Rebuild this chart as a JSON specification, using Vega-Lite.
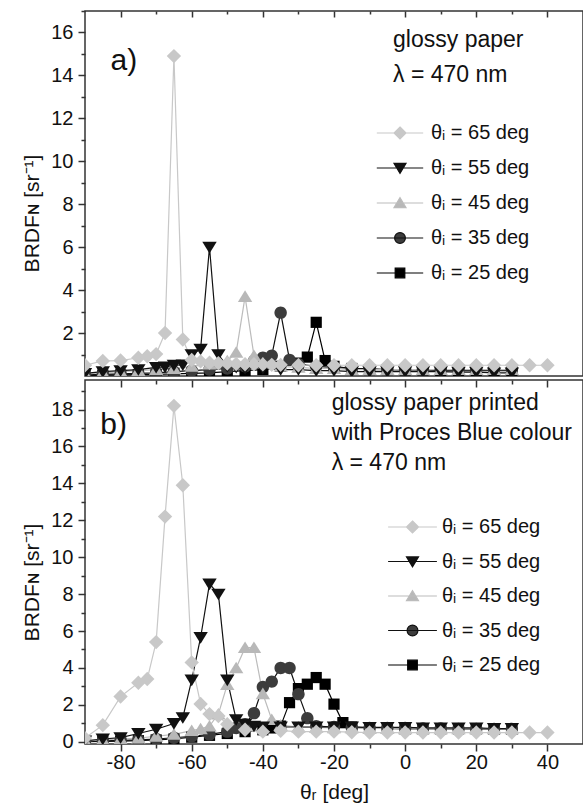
{
"$schema": "https://vega.github.io/schema/vega-lite/v6.json",
"padding": {"left": 21, "top": 9, "right": 0, "bottom": 4},
"config": {
  "font": "Liberation Sans",
  "view": {"stroke": "#333333", "strokeWidth": 1.5},
  "axis": {"domain": false, "grid": false, "tickColor": "#333333", "tickWidth": 1.5, "labelFont": "Liberation Sans", "labelFontSize": 20, "labelColor": "#111111", "titleFont": "Liberation Sans", "titleFontSize": 21, "titleFontWeight": "normal", "titleColor": "#111111"}
},
"datasets": {"d": [
{"p":"a","s":"25","x":-90,"y":0.03},{"p":"a","s":"25","x":-85,"y":0.04},{"p":"a","s":"25","x":-80,"y":0.05},{"p":"a","s":"25","x":-75,"y":0.06},{"p":"a","s":"25","x":-70,"y":0.08},{"p":"a","s":"25","x":-65,"y":0.1},{"p":"a","s":"25","x":-60,"y":0.12},{"p":"a","s":"25","x":-55,"y":0.15},{"p":"a","s":"25","x":-50,"y":0.2},{"p":"a","s":"25","x":-45,"y":0.25},{"p":"a","s":"25","x":-40,"y":0.3},{"p":"a","s":"25","x":-35,"y":0.45},{"p":"a","s":"25","x":-30,"y":0.6},{"p":"a","s":"25","x":-27.5,"y":0.88},{"p":"a","s":"25","x":-25,"y":2.5},{"p":"a","s":"25","x":-22.5,"y":0.72},{"p":"a","s":"25","x":-20,"y":0.45},{"p":"a","s":"25","x":-15,"y":0.35},{"p":"a","s":"25","x":-10,"y":0.3},{"p":"a","s":"25","x":-5,"y":0.3},{"p":"a","s":"25","x":0,"y":0.28},{"p":"a","s":"25","x":5,"y":0.28},{"p":"a","s":"25","x":10,"y":0.25},{"p":"a","s":"25","x":15,"y":0.25},{"p":"a","s":"25","x":20,"y":0.25},{"p":"a","s":"25","x":25,"y":0.25},{"p":"a","s":"25","x":30,"y":0.25},
{"p":"a","s":"35","x":-90,"y":0.05},{"p":"a","s":"35","x":-85,"y":0.08},{"p":"a","s":"35","x":-80,"y":0.1},{"p":"a","s":"35","x":-75,"y":0.12},{"p":"a","s":"35","x":-70,"y":0.15},{"p":"a","s":"35","x":-65,"y":0.2},{"p":"a","s":"35","x":-60,"y":0.25},{"p":"a","s":"35","x":-55,"y":0.3},{"p":"a","s":"35","x":-50,"y":0.35},{"p":"a","s":"35","x":-45,"y":0.45},{"p":"a","s":"35","x":-42.5,"y":0.7},{"p":"a","s":"35","x":-40,"y":0.85},{"p":"a","s":"35","x":-37.5,"y":0.95},{"p":"a","s":"35","x":-35,"y":2.95},{"p":"a","s":"35","x":-32.5,"y":0.75},{"p":"a","s":"35","x":-30,"y":0.55},{"p":"a","s":"35","x":-25,"y":0.45},{"p":"a","s":"35","x":-20,"y":0.4},{"p":"a","s":"35","x":-15,"y":0.35},{"p":"a","s":"35","x":-10,"y":0.35},{"p":"a","s":"35","x":-5,"y":0.3},{"p":"a","s":"35","x":0,"y":0.3},{"p":"a","s":"35","x":5,"y":0.3},{"p":"a","s":"35","x":10,"y":0.3},{"p":"a","s":"35","x":15,"y":0.3},{"p":"a","s":"35","x":20,"y":0.3},{"p":"a","s":"35","x":25,"y":0.3},{"p":"a","s":"35","x":30,"y":0.3},
{"p":"a","s":"45","x":-90,"y":0.1},{"p":"a","s":"45","x":-85,"y":0.15},{"p":"a","s":"45","x":-80,"y":0.2},{"p":"a","s":"45","x":-75,"y":0.25},{"p":"a","s":"45","x":-70,"y":0.3},{"p":"a","s":"45","x":-65,"y":0.35},{"p":"a","s":"45","x":-60,"y":0.45},{"p":"a","s":"45","x":-55,"y":0.55},{"p":"a","s":"45","x":-50,"y":0.7},{"p":"a","s":"45","x":-47.5,"y":1.1},{"p":"a","s":"45","x":-45,"y":3.7},{"p":"a","s":"45","x":-42.5,"y":0.95},{"p":"a","s":"45","x":-40,"y":0.6},{"p":"a","s":"45","x":-35,"y":0.45},{"p":"a","s":"45","x":-30,"y":0.4},{"p":"a","s":"45","x":-25,"y":0.35},{"p":"a","s":"45","x":-20,"y":0.35},{"p":"a","s":"45","x":-15,"y":0.3},{"p":"a","s":"45","x":-10,"y":0.3},{"p":"a","s":"45","x":-5,"y":0.3},{"p":"a","s":"45","x":0,"y":0.3},{"p":"a","s":"45","x":5,"y":0.3},{"p":"a","s":"45","x":10,"y":0.3},{"p":"a","s":"45","x":15,"y":0.3},{"p":"a","s":"45","x":20,"y":0.3},{"p":"a","s":"45","x":25,"y":0.3},{"p":"a","s":"45","x":30,"y":0.3},
{"p":"a","s":"55","x":-90,"y":0.12},{"p":"a","s":"55","x":-85,"y":0.2},{"p":"a","s":"55","x":-80,"y":0.25},{"p":"a","s":"55","x":-75,"y":0.3},{"p":"a","s":"55","x":-70,"y":0.4},{"p":"a","s":"55","x":-67.5,"y":0.42},{"p":"a","s":"55","x":-65,"y":0.5},{"p":"a","s":"55","x":-62.5,"y":0.52},{"p":"a","s":"55","x":-60,"y":1.0},{"p":"a","s":"55","x":-57.5,"y":1.25},{"p":"a","s":"55","x":-55,"y":6.0},{"p":"a","s":"55","x":-52.5,"y":1.0},{"p":"a","s":"55","x":-50,"y":0.45},{"p":"a","s":"55","x":-47.5,"y":0.4},{"p":"a","s":"55","x":-45,"y":0.35},{"p":"a","s":"55","x":-40,"y":0.35},{"p":"a","s":"55","x":-35,"y":0.3},{"p":"a","s":"55","x":-30,"y":0.3},{"p":"a","s":"55","x":-25,"y":0.25},{"p":"a","s":"55","x":-20,"y":0.25},{"p":"a","s":"55","x":-15,"y":0.2},{"p":"a","s":"55","x":-10,"y":0.2},{"p":"a","s":"55","x":-5,"y":0.2},{"p":"a","s":"55","x":0,"y":0.2},{"p":"a","s":"55","x":5,"y":0.2},{"p":"a","s":"55","x":10,"y":0.2},{"p":"a","s":"55","x":15,"y":0.18},{"p":"a","s":"55","x":20,"y":0.18},{"p":"a","s":"55","x":25,"y":0.15},{"p":"a","s":"55","x":30,"y":0.15},
{"p":"a","s":"65","x":-90,"y":0.5},{"p":"a","s":"65","x":-85,"y":0.7},{"p":"a","s":"65","x":-80,"y":0.72},{"p":"a","s":"65","x":-75,"y":0.85},{"p":"a","s":"65","x":-72.5,"y":0.92},{"p":"a","s":"65","x":-70,"y":1.02},{"p":"a","s":"65","x":-67.5,"y":2.0},{"p":"a","s":"65","x":-65,"y":14.9},{"p":"a","s":"65","x":-62.5,"y":1.7},{"p":"a","s":"65","x":-60,"y":0.75},{"p":"a","s":"65","x":-57.5,"y":0.68},{"p":"a","s":"65","x":-55,"y":0.62},{"p":"a","s":"65","x":-52.5,"y":0.6},{"p":"a","s":"65","x":-50,"y":0.58},{"p":"a","s":"65","x":-47.5,"y":0.56},{"p":"a","s":"65","x":-45,"y":0.55},{"p":"a","s":"65","x":-42.5,"y":0.55},{"p":"a","s":"65","x":-40,"y":0.54},{"p":"a","s":"65","x":-37.5,"y":0.52},{"p":"a","s":"65","x":-35,"y":0.52},{"p":"a","s":"65","x":-30,"y":0.5},{"p":"a","s":"65","x":-25,"y":0.5},{"p":"a","s":"65","x":-20,"y":0.5},{"p":"a","s":"65","x":-15,"y":0.5},{"p":"a","s":"65","x":-10,"y":0.5},{"p":"a","s":"65","x":-5,"y":0.5},{"p":"a","s":"65","x":0,"y":0.5},{"p":"a","s":"65","x":5,"y":0.5},{"p":"a","s":"65","x":10,"y":0.5},{"p":"a","s":"65","x":15,"y":0.5},{"p":"a","s":"65","x":20,"y":0.5},{"p":"a","s":"65","x":25,"y":0.5},{"p":"a","s":"65","x":30,"y":0.5},{"p":"a","s":"65","x":35,"y":0.5},{"p":"a","s":"65","x":40,"y":0.5},
{"p":"b","s":"25","x":-90,"y":0.01},{"p":"b","s":"25","x":-85,"y":0.02},{"p":"b","s":"25","x":-80,"y":0.04},{"p":"b","s":"25","x":-75,"y":0.06},{"p":"b","s":"25","x":-70,"y":0.1},{"p":"b","s":"25","x":-65,"y":0.15},{"p":"b","s":"25","x":-60,"y":0.25},{"p":"b","s":"25","x":-55,"y":0.35},{"p":"b","s":"25","x":-50,"y":0.45},{"p":"b","s":"25","x":-45,"y":0.55},{"p":"b","s":"25","x":-40,"y":0.65},{"p":"b","s":"25","x":-37.5,"y":0.75},{"p":"b","s":"25","x":-35,"y":0.85},{"p":"b","s":"25","x":-32.5,"y":2.12},{"p":"b","s":"25","x":-30,"y":2.88},{"p":"b","s":"25","x":-27.5,"y":3.12},{"p":"b","s":"25","x":-25,"y":3.48},{"p":"b","s":"25","x":-22.5,"y":3.12},{"p":"b","s":"25","x":-20,"y":2.04},{"p":"b","s":"25","x":-17.5,"y":1.04},{"p":"b","s":"25","x":-15,"y":0.8},{"p":"b","s":"25","x":-10,"y":0.75},{"p":"b","s":"25","x":-5,"y":0.72},{"p":"b","s":"25","x":0,"y":0.7},{"p":"b","s":"25","x":5,"y":0.7},{"p":"b","s":"25","x":10,"y":0.7},{"p":"b","s":"25","x":15,"y":0.7},{"p":"b","s":"25","x":20,"y":0.7},{"p":"b","s":"25","x":25,"y":0.68},{"p":"b","s":"25","x":30,"y":0.68},
{"p":"b","s":"35","x":-90,"y":0.02},{"p":"b","s":"35","x":-85,"y":0.05},{"p":"b","s":"35","x":-80,"y":0.08},{"p":"b","s":"35","x":-75,"y":0.1},{"p":"b","s":"35","x":-70,"y":0.15},{"p":"b","s":"35","x":-65,"y":0.22},{"p":"b","s":"35","x":-60,"y":0.3},{"p":"b","s":"35","x":-55,"y":0.4},{"p":"b","s":"35","x":-50,"y":0.55},{"p":"b","s":"35","x":-47.5,"y":0.75},{"p":"b","s":"35","x":-45,"y":0.95},{"p":"b","s":"35","x":-42.5,"y":1.55},{"p":"b","s":"35","x":-40,"y":2.97},{"p":"b","s":"35","x":-37.5,"y":3.26},{"p":"b","s":"35","x":-35,"y":4.0},{"p":"b","s":"35","x":-32.5,"y":4.0},{"p":"b","s":"35","x":-30,"y":2.58},{"p":"b","s":"35","x":-27.5,"y":1.28},{"p":"b","s":"35","x":-25,"y":0.85},{"p":"b","s":"35","x":-20,"y":0.8},{"p":"b","s":"35","x":-15,"y":0.78},{"p":"b","s":"35","x":-10,"y":0.75},{"p":"b","s":"35","x":-5,"y":0.75},{"p":"b","s":"35","x":0,"y":0.75},{"p":"b","s":"35","x":5,"y":0.72},{"p":"b","s":"35","x":10,"y":0.72},{"p":"b","s":"35","x":15,"y":0.7},{"p":"b","s":"35","x":20,"y":0.7},{"p":"b","s":"35","x":25,"y":0.7},{"p":"b","s":"35","x":30,"y":0.7},
{"p":"b","s":"45","x":-90,"y":0.05},{"p":"b","s":"45","x":-85,"y":0.1},{"p":"b","s":"45","x":-80,"y":0.15},{"p":"b","s":"45","x":-75,"y":0.2},{"p":"b","s":"45","x":-70,"y":0.3},{"p":"b","s":"45","x":-65,"y":0.4},{"p":"b","s":"45","x":-60,"y":0.6},{"p":"b","s":"45","x":-57.5,"y":0.7},{"p":"b","s":"45","x":-55,"y":0.85},{"p":"b","s":"45","x":-52.5,"y":1.5},{"p":"b","s":"45","x":-50,"y":3.1},{"p":"b","s":"45","x":-47.5,"y":4.0},{"p":"b","s":"45","x":-45,"y":5.1},{"p":"b","s":"45","x":-42.5,"y":5.1},{"p":"b","s":"45","x":-40,"y":2.6},{"p":"b","s":"45","x":-37.5,"y":1.2},{"p":"b","s":"45","x":-35,"y":0.9},{"p":"b","s":"45","x":-30,"y":0.8},{"p":"b","s":"45","x":-25,"y":0.78},{"p":"b","s":"45","x":-20,"y":0.75},{"p":"b","s":"45","x":-15,"y":0.75},{"p":"b","s":"45","x":-10,"y":0.72},{"p":"b","s":"45","x":-5,"y":0.72},{"p":"b","s":"45","x":0,"y":0.7},{"p":"b","s":"45","x":5,"y":0.7},{"p":"b","s":"45","x":10,"y":0.7},{"p":"b","s":"45","x":15,"y":0.7},{"p":"b","s":"45","x":20,"y":0.7},{"p":"b","s":"45","x":25,"y":0.7},{"p":"b","s":"45","x":30,"y":0.7},
{"p":"b","s":"55","x":-90,"y":0.05},{"p":"b","s":"55","x":-85,"y":0.15},{"p":"b","s":"55","x":-80,"y":0.23},{"p":"b","s":"55","x":-75,"y":0.45},{"p":"b","s":"55","x":-70,"y":0.68},{"p":"b","s":"55","x":-65,"y":0.99},{"p":"b","s":"55","x":-62.5,"y":1.31},{"p":"b","s":"55","x":-60,"y":3.35},{"p":"b","s":"55","x":-57.5,"y":5.65},{"p":"b","s":"55","x":-55,"y":8.55},{"p":"b","s":"55","x":-52.5,"y":8.0},{"p":"b","s":"55","x":-50,"y":3.35},{"p":"b","s":"55","x":-47.5,"y":1.2},{"p":"b","s":"55","x":-45,"y":0.95},{"p":"b","s":"55","x":-42.5,"y":0.85},{"p":"b","s":"55","x":-40,"y":0.8},{"p":"b","s":"55","x":-35,"y":0.8},{"p":"b","s":"55","x":-30,"y":0.8},{"p":"b","s":"55","x":-25,"y":0.8},{"p":"b","s":"55","x":-20,"y":0.8},{"p":"b","s":"55","x":-15,"y":0.8},{"p":"b","s":"55","x":-10,"y":0.78},{"p":"b","s":"55","x":-5,"y":0.78},{"p":"b","s":"55","x":0,"y":0.78},{"p":"b","s":"55","x":5,"y":0.75},{"p":"b","s":"55","x":10,"y":0.75},{"p":"b","s":"55","x":15,"y":0.75},{"p":"b","s":"55","x":20,"y":0.75},{"p":"b","s":"55","x":25,"y":0.72},{"p":"b","s":"55","x":30,"y":0.72},
{"p":"b","s":"65","x":-90,"y":0.2},{"p":"b","s":"65","x":-85,"y":0.9},{"p":"b","s":"65","x":-80,"y":2.45},{"p":"b","s":"65","x":-75,"y":3.2},{"p":"b","s":"65","x":-72.5,"y":3.4},{"p":"b","s":"65","x":-70,"y":5.4},{"p":"b","s":"65","x":-67.5,"y":12.2},{"p":"b","s":"65","x":-65,"y":18.2},{"p":"b","s":"65","x":-62.5,"y":13.9},{"p":"b","s":"65","x":-60,"y":4.3},{"p":"b","s":"65","x":-57.5,"y":2.05},{"p":"b","s":"65","x":-55,"y":1.5},{"p":"b","s":"65","x":-52.5,"y":1.4},{"p":"b","s":"65","x":-50,"y":0.95},{"p":"b","s":"65","x":-45,"y":0.65},{"p":"b","s":"65","x":-40,"y":0.55},{"p":"b","s":"65","x":-35,"y":0.6},{"p":"b","s":"65","x":-30,"y":0.55},{"p":"b","s":"65","x":-25,"y":0.55},{"p":"b","s":"65","x":-20,"y":0.55},{"p":"b","s":"65","x":-15,"y":0.52},{"p":"b","s":"65","x":-10,"y":0.5},{"p":"b","s":"65","x":-5,"y":0.5},{"p":"b","s":"65","x":0,"y":0.5},{"p":"b","s":"65","x":5,"y":0.5},{"p":"b","s":"65","x":10,"y":0.5},{"p":"b","s":"65","x":15,"y":0.5},{"p":"b","s":"65","x":20,"y":0.5},{"p":"b","s":"65","x":25,"y":0.5},{"p":"b","s":"65","x":30,"y":0.5},{"p":"b","s":"65","x":35,"y":0.5},{"p":"b","s":"65","x":40,"y":0.5}
]},
"spacing": 1,
"resolve": {"scale": {"color": "independent", "fill": "independent", "stroke": "independent", "shape": "independent"}, "legend": {"color": "independent", "shape": "independent", "fill": "independent", "stroke": "independent"}},
"vconcat": [
{
  "width": 498, "height": 365,
  "resolve": {"axis": {"x": "independent", "y": "independent"}},
  "layer": [
    {
      "data": {"name": "d"},
      "transform": [{"filter": "datum.p == 'a'"}],
      "mark": {"type": "line", "strokeWidth": 1.2, "clip": true},
      "encoding": {
        "x": {"field": "x", "type": "quantitative", "scale": {"domain": [-90, 50], "nice": false, "zero": false},
              "axis": {"orient": "top", "title": null, "labels": false, "values": [-80,-60,-40,-20,0,20,40], "tickSize": -6}},
        "y": {"field": "y", "type": "quantitative", "scale": {"domain": [0, 17], "nice": false, "zero": false},
              "axis": {"orient": "left", "title": "BRDFɴ [sr⁻¹]", "titleY": 202, "titlePadding": 8, "labelPadding": 5, "tickSize": 7, "values": [2,4,6,8,10,12,14,16]}},
        "color": {"field": "s", "type": "nominal", "scale": {"domain": ["25","35","45","55","65"], "range": ["#000000","#111111","#bcbcbc","#111111","#c8c8c8"]}, "legend": null}
      }
    },
    {
      "data": {"name": "d"},
      "transform": [{"filter": "datum.p == 'legend-only'"}],
      "mark": {"type": "point", "filled": true, "opacity": 1, "size": 64, "strokeWidth": 1.2},
      "encoding": {
        "x": {"field": "x", "type": "quantitative", "axis": {"orient": "top", "title": null, "labels": false, "values": [-70,-50,-30,-10,10,30], "tickSize": -3}},
        "y": {"field": "y", "type": "quantitative", "axis": {"orient": "left", "title": null, "labels": false, "tickSize": 4, "values": [1,3,5,7,9,11,13,15,17]}},
        "stroke": {"field": "s", "type": "nominal", "scale": {"domain": ["65","55","45","35","25"], "range": ["#c8c8c8","#111111","#bcbcbc","#111111","#000000"]},
                   "legend": {"orient": "none", "legendX": 305, "legendY": 112, "title": null}},
        "fill": {"field": "s", "type": "nominal", "scale": {"domain": ["65","55","45","35","25"], "range": ["#c8c8c8","#111111","#b8b8b8","#3c3c3c","#000000"]},
                 "legend": {"orient": "none", "legendX": 305, "legendY": 112, "title": null}},
        "shape": {"field": "s", "type": "nominal",
                  "scale": {"domain": ["65","55","45","35","25"], "range": ["M-5.8,0H5.8M0,-1.5L1.5,0L0,1.5L-1.5,0Z","M-5.8,0H5.8M-1.5,-1.15L1.5,-1.15L0,1.35Z","M-5.8,0H5.8M-1.5,1.15L1.5,1.15L0,-1.35Z","M-5.8,0H5.8M1.35,0A1.35,1.35,0,1,1,-1.35,0A1.35,1.35,0,1,1,1.35,0Z","M-5.8,0H5.8M-1.2,-1.2H1.2V1.2H-1.2Z"]},
                  "legend": {"orient": "none", "legendX": 305, "legendY": 112, "title": null, "rowPadding": 15, "labelFont": "Liberation Sans", "labelFontSize": 20, "labelColor": "#111111", "symbolSize": 64, "symbolStrokeWidth": 1.2, "labelOffset": 21, "symbolOpacity": 1,
                             "labelExpr": "'θᵢ = ' + datum.label + ' deg'"}}
      }
    },
    {"data": {"name": "d"}, "transform": [{"filter": "datum.p == 'a' && datum.s == '25'"}],
     "mark": {"type": "point", "filled": true, "shape": "M-1.4,-1.4H1.4V1.4H-1.4Z", "color": "#000000", "opacity": 1, "size": 64, "strokeWidth": 0, "clip": true},
     "encoding": {"x": {"field": "x", "type": "quantitative", "axis": null}, "y": {"field": "y", "type": "quantitative", "axis": null}}},
    {"data": {"name": "d"}, "transform": [{"filter": "datum.p == 'a' && datum.s == '35'"}],
     "mark": {"type": "point", "filled": true, "shape": "M1.55,0A1.55,1.55,0,1,1,-1.55,0A1.55,1.55,0,1,1,1.55,0Z", "color": "#3c3c3c", "opacity": 1, "size": 64, "strokeWidth": 0, "clip": true},
     "encoding": {"x": {"field": "x", "type": "quantitative", "axis": null}, "y": {"field": "y", "type": "quantitative", "axis": null}}},
    {"data": {"name": "d"}, "transform": [{"filter": "datum.p == 'a' && datum.s == '45'"}],
     "mark": {"type": "point", "filled": true, "shape": "M-1.8,1.35L1.8,1.35L0,-1.55Z", "color": "#b8b8b8", "opacity": 1, "size": 64, "strokeWidth": 0, "clip": true},
     "encoding": {"x": {"field": "x", "type": "quantitative", "axis": null}, "y": {"field": "y", "type": "quantitative", "axis": null}}},
    {"data": {"name": "d"}, "transform": [{"filter": "datum.p == 'a' && datum.s == '55'"}],
     "mark": {"type": "point", "filled": true, "shape": "M-1.8,-1.35L1.8,-1.35L0,1.55Z", "color": "#111111", "opacity": 1, "size": 64, "strokeWidth": 0, "clip": true},
     "encoding": {"x": {"field": "x", "type": "quantitative", "axis": null}, "y": {"field": "y", "type": "quantitative", "axis": null}}},
    {"data": {"name": "d"}, "transform": [{"filter": "datum.p == 'a' && datum.s == '65'"}],
     "mark": {"type": "point", "filled": true, "shape": "M0,-1.8L1.8,0L0,1.8L-1.8,0Z", "color": "#c8c8c8", "opacity": 1, "size": 64, "strokeWidth": 0, "clip": true},
     "encoding": {"x": {"field": "x", "type": "quantitative", "axis": null}, "y": {"field": "y", "type": "quantitative", "axis": null}}},
    {
      "data": {"values": [{"t": "a)"}]},
      "mark": {"type": "text", "align": "left", "baseline": "alphabetic", "fontSize": 30, "font": "Liberation Sans", "color": "#111111"},
      "encoding": {"x": {"datum": -82.8, "type": "quantitative", "axis": null}, "y": {"datum": 14.25, "type": "quantitative", "axis": null}, "text": {"field": "t"}}
    },
    {
      "data": {"values": [{"t": ["glossy paper", "λ = 470 nm"]}]},
      "mark": {"type": "text", "align": "left", "baseline": "alphabetic", "fontSize": 23, "lineHeight": 35, "font": "Liberation Sans", "color": "#111111"},
      "encoding": {"x": {"datum": -3.4, "type": "quantitative", "axis": null}, "y": {"datum": 15.34, "type": "quantitative", "axis": null}, "text": {"field": "t"}}
    }
  ]
},
{
  "width": 498, "height": 364,
  "resolve": {"axis": {"x": "independent", "y": "independent"}},
  "layer": [
    {
      "data": {"name": "d"},
      "transform": [{"filter": "datum.p == 'b'"}],
      "mark": {"type": "line", "strokeWidth": 1.2, "clip": true},
      "encoding": {
        "x": {"field": "x", "type": "quantitative", "scale": {"domain": [-90, 50], "nice": false, "zero": false},
              "axis": {"orient": "bottom", "title": "θᵣ [deg]", "titlePadding": 9, "labelPadding": 1, "tickSize": 7, "values": [-80,-60,-40,-20,0,20,40], "labelExpr": "'' + datum.value"}},
        "y": {"field": "y", "type": "quantitative", "scale": {"domain": [-0.12, 19.6], "nice": false, "zero": false},
              "axis": {"orient": "left", "title": "BRDFɴ [sr⁻¹]", "titleY": 202, "titlePadding": 8, "labelPadding": 5, "tickSize": 7, "values": [0,2,4,6,8,10,12,14,16,18]}},
        "color": {"field": "s", "type": "nominal", "scale": {"domain": ["25","35","45","55","65"], "range": ["#000000","#111111","#bcbcbc","#111111","#c8c8c8"]}, "legend": null}
      }
    },
    {
      "data": {"name": "d"},
      "transform": [{"filter": "datum.p == 'legend-only'"}],
      "mark": {"type": "point", "filled": true, "opacity": 1, "size": 64, "strokeWidth": 1.2},
      "encoding": {
        "x": {"field": "x", "type": "quantitative", "axis": {"orient": "bottom", "title": null, "labels": false, "tickSize": 4, "values": [-70,-50,-30,-10,10,30]}},
        "y": {"field": "y", "type": "quantitative", "axis": {"orient": "left", "title": null, "labels": false, "tickSize": 4, "values": [1,3,5,7,9,11,13,15,17,19]}},
        "stroke": {"field": "s", "type": "nominal", "scale": {"domain": ["65","55","45","35","25"], "range": ["#c8c8c8","#111111","#bcbcbc","#111111","#000000"]},
                   "legend": {"orient": "none", "legendX": 317.5, "legendY": 137, "title": null}},
        "fill": {"field": "s", "type": "nominal", "scale": {"domain": ["65","55","45","35","25"], "range": ["#c8c8c8","#111111","#b8b8b8","#3c3c3c","#000000"]},
                 "legend": {"orient": "none", "legendX": 317.5, "legendY": 137, "title": null}},
        "shape": {"field": "s", "type": "nominal",
                  "scale": {"domain": ["65","55","45","35","25"], "range": ["M-6.1,0H6.1M0,-1.5L1.5,0L0,1.5L-1.5,0Z","M-6.1,0H6.1M-1.5,-1.15L1.5,-1.15L0,1.35Z","M-6.1,0H6.1M-1.5,1.15L1.5,1.15L0,-1.35Z","M-6.1,0H6.1M1.35,0A1.35,1.35,0,1,1,-1.35,0A1.35,1.35,0,1,1,1.35,0Z","M-6.1,0H6.1M-1.2,-1.2H1.2V1.2H-1.2Z"]},
                  "legend": {"orient": "none", "legendX": 317.5, "legendY": 137, "title": null, "rowPadding": 14.5, "labelFont": "Liberation Sans", "labelFontSize": 20, "labelColor": "#111111", "symbolSize": 64, "symbolStrokeWidth": 1.2, "labelOffset": 19.5, "symbolOpacity": 1,
                             "labelExpr": "'θᵢ = ' + datum.label + ' deg'"}}
      }
    },
    {"data": {"name": "d"}, "transform": [{"filter": "datum.p == 'b' && datum.s == '25'"}],
     "mark": {"type": "point", "filled": true, "shape": "M-1.4,-1.4H1.4V1.4H-1.4Z", "color": "#000000", "opacity": 1, "size": 64, "strokeWidth": 0, "clip": true},
     "encoding": {"x": {"field": "x", "type": "quantitative", "axis": null}, "y": {"field": "y", "type": "quantitative", "axis": null}}},
    {"data": {"name": "d"}, "transform": [{"filter": "datum.p == 'b' && datum.s == '35'"}],
     "mark": {"type": "point", "filled": true, "shape": "M1.55,0A1.55,1.55,0,1,1,-1.55,0A1.55,1.55,0,1,1,1.55,0Z", "color": "#3c3c3c", "opacity": 1, "size": 64, "strokeWidth": 0, "clip": true},
     "encoding": {"x": {"field": "x", "type": "quantitative", "axis": null}, "y": {"field": "y", "type": "quantitative", "axis": null}}},
    {"data": {"name": "d"}, "transform": [{"filter": "datum.p == 'b' && datum.s == '45'"}],
     "mark": {"type": "point", "filled": true, "shape": "M-1.8,1.35L1.8,1.35L0,-1.55Z", "color": "#b8b8b8", "opacity": 1, "size": 64, "strokeWidth": 0, "clip": true},
     "encoding": {"x": {"field": "x", "type": "quantitative", "axis": null}, "y": {"field": "y", "type": "quantitative", "axis": null}}},
    {"data": {"name": "d"}, "transform": [{"filter": "datum.p == 'b' && datum.s == '55'"}],
     "mark": {"type": "point", "filled": true, "shape": "M-1.8,-1.35L1.8,-1.35L0,1.55Z", "color": "#111111", "opacity": 1, "size": 64, "strokeWidth": 0, "clip": true},
     "encoding": {"x": {"field": "x", "type": "quantitative", "axis": null}, "y": {"field": "y", "type": "quantitative", "axis": null}}},
    {"data": {"name": "d"}, "transform": [{"filter": "datum.p == 'b' && datum.s == '65'"}],
     "mark": {"type": "point", "filled": true, "shape": "M0,-1.8L1.8,0L0,1.8L-1.8,0Z", "color": "#c8c8c8", "opacity": 1, "size": 64, "strokeWidth": 0, "clip": true},
     "encoding": {"x": {"field": "x", "type": "quantitative", "axis": null}, "y": {"field": "y", "type": "quantitative", "axis": null}}},
    {
      "data": {"values": [{"t": "b)"}]},
      "mark": {"type": "text", "align": "left", "baseline": "alphabetic", "fontSize": 30, "font": "Liberation Sans", "color": "#111111"},
      "encoding": {"x": {"datum": -85.7, "type": "quantitative", "axis": {"orient": "top", "title": null, "labels": false, "tickSize": -7, "values": [-80,-60,-40,-20,0,20,40]}}, "y": {"datum": 16.65, "type": "quantitative", "axis": null}, "text": {"field": "t"}}
    },
    {
      "data": {"values": [{"t": ["glossy paper printed", "with Proces Blue colour", "λ = 470 nm"]}]},
      "mark": {"type": "text", "align": "left", "baseline": "alphabetic", "fontSize": 23, "lineHeight": 30, "font": "Liberation Sans", "color": "#111111"},
      "encoding": {"x": {"datum": -20.66, "type": "quantitative", "axis": {"orient": "top", "title": null, "labels": false, "tickSize": -4, "values": [-70,-50,-30,-10,10,30]}}, "y": {"datum": 17.98, "type": "quantitative", "axis": null}, "text": {"field": "t"}}
    }
  ]
}
]
}
